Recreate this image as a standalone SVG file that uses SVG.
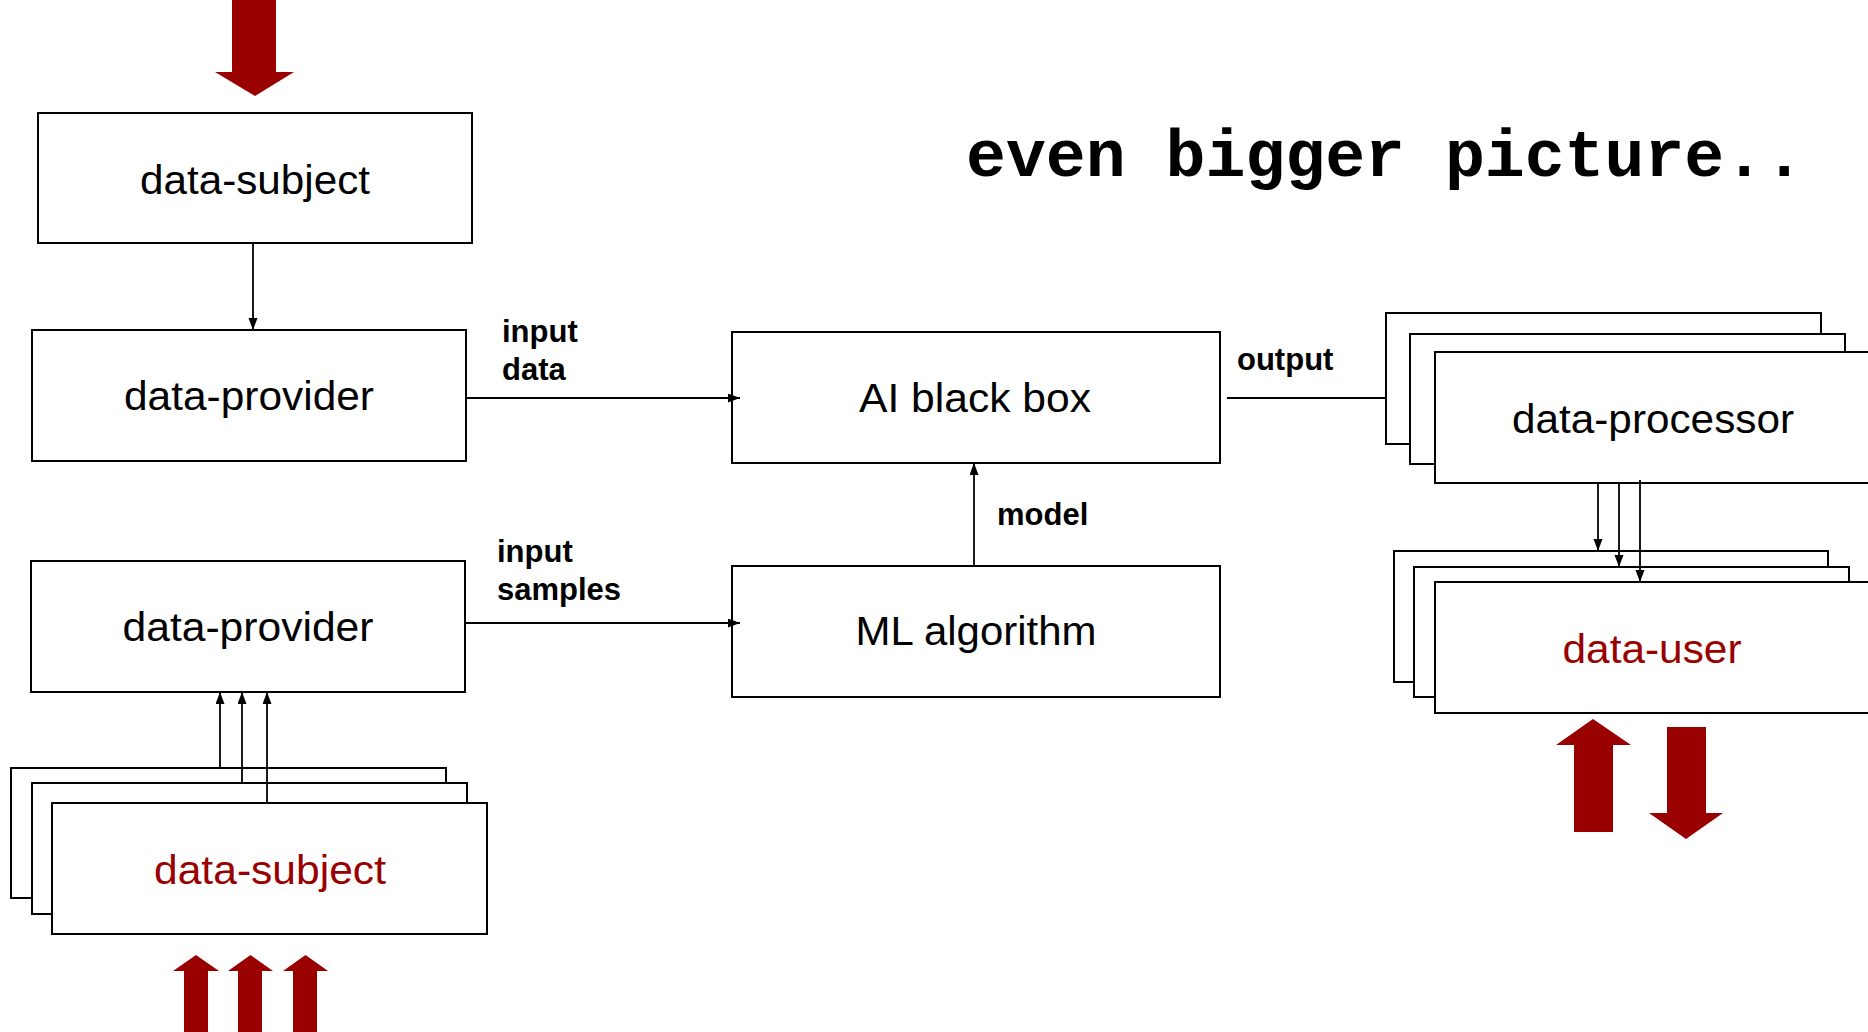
<svg xmlns="http://www.w3.org/2000/svg" width="1868" height="1032" viewBox="0 0 1868 1032">
  <style>
    .box { fill: #ffffff; stroke: #000000; stroke-width: 2; }
    .name { font-family: "Liberation Sans", Arial, sans-serif; font-size: 40px; fill: #000000; text-anchor: middle; }
    .red { fill: #990000; }
    .label { font-family: "Liberation Sans", Arial, sans-serif; font-size: 31px; font-weight: bold; fill: #000000; }
    .wire { stroke: #000000; stroke-width: 1.8; fill: none; }
    .big { fill: #990000; }
    .title { font-family: "Liberation Mono", "Courier New", monospace; font-size: 66.5px; font-weight: bold; fill: #000000; }
  </style>
  <defs>
    <marker id="tip" markerUnits="userSpaceOnUse" markerWidth="13" markerHeight="10" refX="12" refY="4.5" orient="auto">
      <path d="M0,0 L12,4.5 L0,9 z" fill="#000000"/>
    </marker>
  </defs>

  <rect width="1868" height="1032" fill="#ffffff"/>

  <text class="title" x="966" y="176">even bigger picture..</text>

  <!-- single data subject at the top -->
  <g id="subject-top">
    <polygon class="big" points="232,0 276,0 276,72 294,72 255,96 215,72 232,72"/>
    <rect class="box" x="38" y="113" width="434" height="130"/>
    <text class="name" x="255" y="194" textLength="230" lengthAdjust="spacingAndGlyphs">data-subject</text>
  </g>

  <g id="provider-data">
    <rect class="box" x="32" y="330" width="434" height="131"/>
    <text class="name" x="249" y="410" textLength="250" lengthAdjust="spacingAndGlyphs">data-provider</text>
  </g>

  <g id="provider-samples">
    <rect class="box" x="31" y="561" width="434" height="131"/>
    <text class="name" x="248" y="641" textLength="251" lengthAdjust="spacingAndGlyphs">data-provider</text>
  </g>

  <!-- stack of data subjects feeding the sample provider -->
  <g id="subjects-stack">
    <rect class="box" x="11" y="768" width="435" height="130"/>
    <rect class="box" x="32" y="783" width="435" height="131"/>
    <rect class="box" x="52" y="803" width="435" height="131"/>
    <text class="name red" x="270" y="884" textLength="232" lengthAdjust="spacingAndGlyphs">data-subject</text>
    <polygon class="big" points="184,1034 184,971 173,971 196,955 219,971 208,971 208,1034"/>
    <polygon class="big" points="238,1034 238,971 228,971 250.5,955 273,971 262,971 262,1034"/>
    <polygon class="big" points="293,1034 293,971 283,971 305.5,955 328,971 317,971 317,1034"/>
  </g>

  <g id="ai-black-box">
    <rect class="box" x="732" y="332" width="488" height="131"/>
    <text class="name" x="975" y="412" textLength="232" lengthAdjust="spacingAndGlyphs">AI black box</text>
  </g>

  <g id="ml-algorithm">
    <rect class="box" x="732" y="566" width="488" height="131"/>
    <text class="name" x="976" y="645" textLength="241" lengthAdjust="spacingAndGlyphs">ML algorithm</text>
  </g>

  <!-- stack of data processors -->
  <g id="processors-stack">
    <rect class="box" x="1386" y="313" width="435" height="131"/>
    <rect class="box" x="1410" y="334" width="435" height="130"/>
    <rect class="box" x="1435" y="352" width="440" height="131"/>
    <text class="name" x="1653" y="433" textLength="282" lengthAdjust="spacingAndGlyphs">data-processor</text>
  </g>

  <!-- stack of data users -->
  <g id="users-stack">
    <rect class="box" x="1394" y="551" width="434" height="131"/>
    <rect class="box" x="1414" y="567" width="435" height="130"/>
    <rect class="box" x="1435" y="582" width="440" height="131"/>
    <text class="name red" x="1652" y="663" textLength="179" lengthAdjust="spacingAndGlyphs">data-user</text>
    <polygon class="big" points="1574,832 1574,745 1556,745 1593,719 1631,745 1613,745 1613,832"/>
    <polygon class="big" points="1667,727 1706,727 1706,813 1723,813 1686,839 1649,813 1667,813"/>
  </g>

  <g id="connectors">
    <line class="wire" x1="253" y1="243" x2="253" y2="330" marker-end="url(#tip)"/>
    <line class="wire" x1="466" y1="398" x2="740" y2="398" marker-end="url(#tip)"/>
    <line class="wire" x1="465" y1="623" x2="740" y2="623" marker-end="url(#tip)"/>
    <line class="wire" x1="974" y1="566" x2="974" y2="463" marker-end="url(#tip)"/>
    <line class="wire" x1="1227" y1="398" x2="1386" y2="398"/>
    <line class="wire" x1="1598" y1="483" x2="1598" y2="551" marker-end="url(#tip)"/>
    <line class="wire" x1="1619" y1="483" x2="1619" y2="567" marker-end="url(#tip)"/>
    <line class="wire" x1="1640" y1="480" x2="1640" y2="582" marker-end="url(#tip)"/>
    <line class="wire" x1="220" y1="768" x2="220" y2="692" marker-end="url(#tip)"/>
    <line class="wire" x1="242" y1="783" x2="242" y2="692" marker-end="url(#tip)"/>
    <line class="wire" x1="267" y1="803" x2="267" y2="692" marker-end="url(#tip)"/>
    <text class="label" x="502" y="342">input</text>
    <text class="label" x="502" y="380">data</text>
    <text class="label" x="497" y="562">input</text>
    <text class="label" x="497" y="600">samples</text>
    <text class="label" x="997" y="525">model</text>
    <text class="label" x="1237" y="370">output</text>
  </g>
</svg>
